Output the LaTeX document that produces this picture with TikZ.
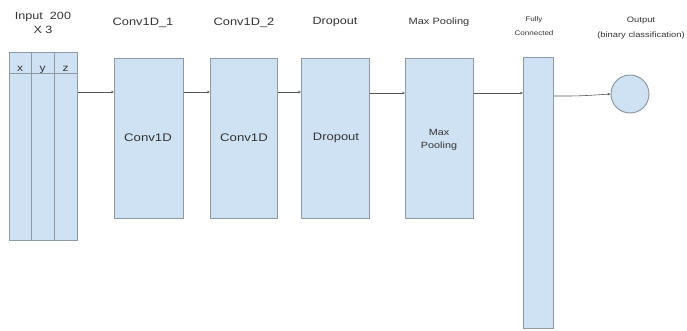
\documentclass[tikz,border=0pt]{standalone}
\usepackage{fontspec}
\setmainfont{Liberation Sans}[FakeStretch=1.2]
\usetikzlibrary{arrows.meta}
\definecolor{layerfill}{HTML}{CFE2F3}
\definecolor{layeredge}{HTML}{8E99A4}
\definecolor{linkgray}{HTML}{555555}
\newcommand{\fsz}[1]{\fontsize{#1}{#1}\selectfont}
\begin{document}
\begin{tikzpicture}[x=1pt,y=-1pt,
  layer/.style={draw=layeredge,fill=layerfill,line width=1pt,inner sep=0pt,anchor=north west},
  txt/.style={align=center,text=black!80,inner sep=0pt},
  link/.style={draw=linkgray,line width=0.6pt,-{Stealth[length=3pt,width=2.5pt]}}]
\useasboundingbox (0,0) rectangle (687,330);

% input tensor with its three channels
\node[layer,minimum width=68pt,minimum height=188pt] (in) at (9,52) {};
\draw[layeredge,line width=1pt] (31,52) -- (31,240) (54,52) -- (54,240);
\draw[layeredge,line width=1pt] (9,73) -- (77,73);
\node[txt,font=\fsz{10},anchor=base] (cx) at (20,71) {x};
\node[txt,font=\fsz{10},anchor=base] (cy) at (42.5,71) {y};
\node[txt,font=\fsz{10},anchor=base] (cz) at (65.5,71) {z};
\node[txt,font=\fsz{10.5}] (tin1) at (43,17) {Input\ \ 200};
\node[txt,font=\fsz{10.5}] (tin2) at (43,30) {X 3};

% layers
\node[layer,minimum width=69pt,minimum height=160pt] (c1) at (114,58) {};
\node[layer,minimum width=67pt,minimum height=160pt] (c2) at (210,58) {};
\node[layer,minimum width=68pt,minimum height=160pt] (dr) at (301,58) {};
\node[layer,minimum width=68pt,minimum height=160pt] (mp) at (405,58) {};
\node[layer,minimum width=30pt,minimum height=271pt] (fc) at (523,57) {};
\node[circle,draw=layeredge,fill=layerfill,line width=1pt,minimum size=38pt,inner sep=0pt] (out) at (630,94) {};

\node[txt,font=\fsz{11}] (l1) at (148,138) {Conv1D};
\node[txt,font=\fsz{11}] (l2) at (244,138) {Conv1D};
\node[txt,font=\fsz{10.8}] (l3) at (336,138) {Dropout};
\node[txt,font=\fsz{9}] (l4a) at (439,132) {Max};
\node[txt,font=\fsz{9}] (l4b) at (439,146) {Pooling};

% captions
\node[txt,font=\fsz{10.7}] (t1) at (143,23) {Conv1D\_1};
\node[txt,font=\fsz{10.7}] (t2) at (244,23) {Conv1D\_2};
\node[txt,font=\fsz{10.5}] (t3) at (335,22) {Dropout};
\node[txt,font=\fsz{9.2}] (t4) at (439,22) {Max Pooling};
\node[txt,font=\fsz{6.7}] (t5a) at (534,20) {Fully};
\node[txt,font=\fsz{6.7}] (t5b) at (534,33) {Connected};
\node[txt,font=\fsz{7.8}] (t6a) at (641,21) {Output};
\node[txt,font=\fsz{7.8}] (t6b) at (641,35) {(binary classification)};

% connections
\draw[link] (in.east |- 0,92) -- (c1.west |- 0,92);
\draw[link] (c1.east |- 0,92) -- (c2.west |- 0,92);
\draw[link] (c2.east |- 0,92) -- (dr.west |- 0,92);
\draw[link] (dr.east |- 0,93) -- (mp.west |- 0,93);
\draw[link] (mp.east |- 0,93) -- (fc.west |- 0,93);
\draw[link] (fc.east |- 0,96) .. controls (580,96) .. (out.west);
\end{tikzpicture}
\end{document}
